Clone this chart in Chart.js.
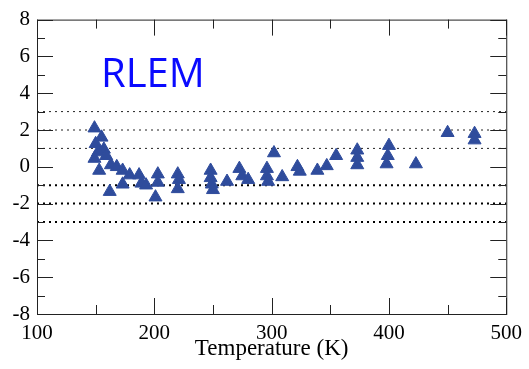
<!DOCTYPE html>
<html>
<head>
<meta charset="utf-8">
<script src="https://cdn.jsdelivr.net/npm/chart.js@4"></script>
<style>
  html, body { margin: 0; padding: 0; background: #fff; }
  #wrap { width: 529px; height: 369px; }
</style>
</head>
<body>
<div id="wrap"><canvas id="chart"></canvas></div>
<script>
// temperature (K) and deviation values
const temps = [149, 155, 150, 157, 152, 149, 159, 153, 163, 162, 168, 173, 173, 179, 187, 189, 193,
  201, 203, 203, 220, 221, 220, 248, 248, 249, 250, 262, 272.5, 275, 280, 296, 296, 297, 302, 309,
  322, 324, 339, 347, 355, 373, 373, 373, 400, 399, 398, 423, 450, 473, 473];
const values = [2.1, 1.6, 1.25, 0.95, 0.8, 0.45, 0.6, -0.2, 0.1, -1.35, 0.0, -0.2, -0.95, -0.45, -0.45, -0.9, -1.0,
  -1.65, -0.4, -0.85, -0.4, -0.7, -1.2, -0.2, -0.6, -0.95, -1.25, -0.8, -0.1, -0.5, -0.7, -0.1, -0.5, -0.8, 0.75, -0.55,
  0.0, -0.25, -0.2, 0.05, 0.6, 0.9, 0.5, 0.1, 1.15, 0.6, 0.15, 0.15, 1.85, 1.8, 1.45];
const refLevels = [3, 2, 1, -1, -2, -3];
const xTicks = [100, 200, 300, 400, 500];
const yTicks = [-8, -6, -4, -2, 0, 2, 4, 6, 8];

const serif = 'Liberation Serif';

const points = temps.map((t, i) => ({ x: t, y: values[i] }));

const refSets = refLevels.map(v => ({
  type: 'line',
  data: [{ x: xTicks[0], y: v }, { x: xTicks[xTicks.length - 1], y: v }],
  borderColor: v > 0 ? '#222' : '#000',
  borderWidth: v > 0 ? 1 : 2,
  borderDash: [2, 4],
  pointRadius: 0,
  order: 2,
}));

// box, inward ticks on all four sides, and the label
const frame = {
  id: 'frame',
  afterDraw(chart) {
    const { ctx, chartArea: a, scales: { x, y } } = chart;
    ctx.save();
    ctx.strokeStyle = '#222';
    ctx.lineWidth = 1;
    const seg = (x1, y1, x2, y2) => { ctx.beginPath(); ctx.moveTo(x1, y1); ctx.lineTo(x2, y2); ctx.stroke(); };
    ctx.strokeRect(a.left + 0.5, a.top + 0.5, a.right - a.left, a.bottom - a.top);
    for (let v = xTicks[0]; v <= xTicks[xTicks.length - 1]; v += 50) {
      const px = Math.round(x.getPixelForValue(v)) + 0.5;
      const len = v % 100 ? 9 : 16;
      seg(px, a.bottom, px, a.bottom - len);
      seg(px, a.top, px, a.top + len);
    }
    for (let v = yTicks[0]; v <= yTicks[yTicks.length - 1]; v += 1) {
      const py = Math.round(y.getPixelForValue(v)) + 0.5;
      const len = v % 2 ? 8 : 16;
      seg(a.left, py, a.left + len, py);
      seg(a.right, py, a.right - len, py);
    }
    ctx.fillStyle = '#0a0aff';
    ctx.font = '40px "Open Sans"';
    ctx.textBaseline = 'alphabetic';
    ctx.fillText('RLEM', 101, 87);
    ctx.restore();
  }
};

new Chart(document.getElementById('chart'), {
  type: 'scatter',
  data: {
    datasets: [{
      data: points,
      pointStyle: 'triangle',
      pointRadius: 7.5,
      pointHoverRadius: 7.5,
      backgroundColor: '#2f4c9c',
      borderColor: '#2f4c9c',
      borderWidth: 1,
      order: 0,
    }, ...refSets]
  },
  options: {
    responsive: true, maintainAspectRatio: false, animation: false,
    layout: { padding: { top: 18, right: 21, left: 0, bottom: 0 } },
    plugins: { legend: { display: false }, tooltip: { enabled: false } },
    scales: {
      x: {
        type: 'linear', min: 100, max: 500,
        afterBuildTicks: s => { s.ticks = xTicks.map(v => ({ value: v })); },
        afterFit: s => { s.height = 55; },
        grid: { display: false, drawTicks: false },
        border: { display: false },
        ticks: { padding: 7, color: '#000', font: { family: serif, size: 21 }, maxRotation: 0, autoSkip: false },
        title: { display: true, text: 'Temperature (K)', color: '#000', font: { family: serif, size: 23 }, padding: { top: 0, bottom: 6 } }
      },
      y: {
        min: -8, max: 8,
        afterBuildTicks: s => { s.ticks = yTicks.map(v => ({ value: v })); },
        afterFit: s => { s.width = 37; },
        grid: { display: false, drawTicks: false },
        border: { display: false },
        ticks: { padding: 7, color: '#000', font: { family: serif, size: 21 } }
      }
    }
  },
  plugins: [frame]
});
</script>
</body>
</html>
